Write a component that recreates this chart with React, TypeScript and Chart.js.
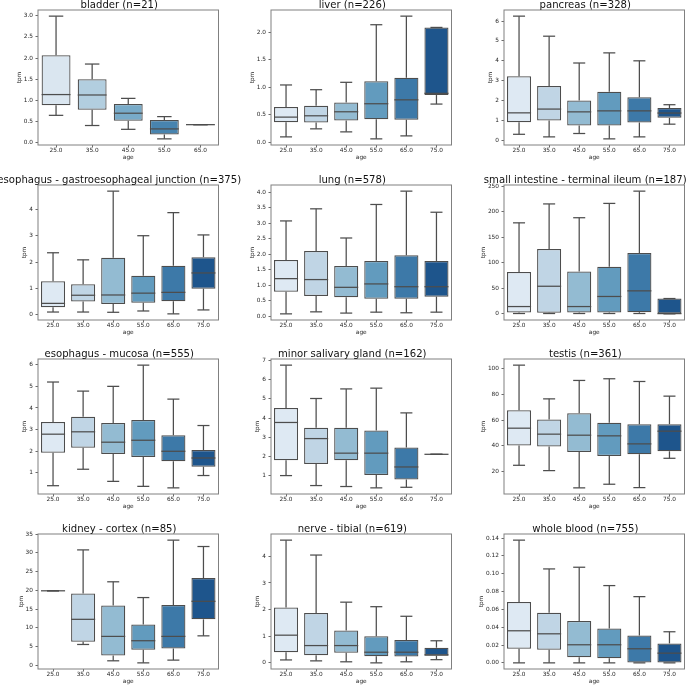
import React, { useEffect, useRef } from "react";
import { Chart, registerables } from "chart.js";

Chart.register(...registerables);

// ---------- data ----------
const AGES_5 = ["25.0", "35.0", "45.0", "55.0", "65.0"];
const AGES_6 = ["25.0", "35.0", "45.0", "55.0", "65.0", "75.0"];

// each row: [whisker low, Q1, median, Q3, whisker high] per age group
const BLADDER = [
  [0.65, 0.89, 1.14, 2.07, 2.99],
  [0.41, 0.78, 1.13, 1.5, 1.86],
  [0.32, 0.52, 0.7, 0.92, 1.05],
  [0.095, 0.2, 0.33, 0.54, 0.62],
  [0.43, 0.43, 0.43, 0.43, 0.43],
];
const LIVER = [
  [0.097, 0.365, 0.456, 0.64, 1.04],
  [0.243, 0.359, 0.48, 0.663, 0.954],
  [0.188, 0.395, 0.553, 0.723, 1.088],
  [0.061, 0.419, 0.699, 1.106, 2.134],
  [0.115, 0.41, 0.77, 1.173, 2.29],
  [0.693, 0.857, 0.888, 2.085, 2.085],
];
const PANCREAS = [
  [0.3, 0.91, 1.38, 3.22, 6.25],
  [0.17, 0.99, 1.57, 2.73, 5.24],
  [0.34, 0.74, 1.43, 2.0, 3.89],
  [0.07, 0.74, 1.48, 2.44, 4.4],
  [0.17, 0.89, 1.48, 2.17, 4.0],
  [0.81, 1.13, 1.37, 1.62, 1.79],
];
const ESOPH_GEJ = [
  [0.1, 0.28, 0.43, 1.27, 2.36],
  [0.1, 0.5, 0.74, 1.16, 2.09],
  [0.09, 0.41, 0.75, 2.17, 4.71],
  [0.14, 0.45, 0.82, 1.48, 3.01],
  [0.03, 0.51, 0.85, 1.86, 3.89],
  [0.18, 0.99, 1.59, 2.19, 3.04],
];
const LUNG = [
  [0.075, 0.79, 1.21, 1.81, 3.07],
  [0.14, 0.65, 1.18, 2.1, 3.46],
  [0.1, 0.61, 0.93, 1.62, 2.52],
  [0.13, 0.56, 1.04, 1.78, 3.6],
  [0.11, 0.56, 0.95, 1.96, 4.03],
  [0.13, 0.63, 0.95, 1.78, 3.35],
];
const SMALL_INTESTINE = [
  [0.7, 2.6, 14.3, 82, 178],
  [0.7, 2.0, 54, 127, 215],
  [0.7, 2.6, 14.3, 83, 188],
  [0.7, 2.6, 34, 92, 216],
  [0.7, 3.3, 45, 119, 240],
  [0, 0, 0.5, 30, 30],
];
const ESOPH_MUCOSA = [
  [0.41, 1.93, 2.79, 3.35, 5.2],
  [1.17, 2.16, 2.9, 3.59, 4.78],
  [0.61, 1.88, 2.42, 3.31, 5.0],
  [0.38, 1.74, 2.51, 3.44, 5.98],
  [0.31, 1.54, 2.0, 2.74, 4.41],
  [0.88, 1.29, 1.69, 2.06, 3.19],
];
const MINOR_SALIVARY = [
  [1.0, 1.8, 3.77, 4.53, 6.76],
  [0.48, 1.61, 2.93, 3.5, 5.02],
  [0.43, 1.8, 2.17, 3.49, 5.52],
  [0.36, 1.03, 2.17, 3.35, 5.56],
  [0.39, 0.79, 1.45, 2.46, 4.27],
  [2.11, 2.11, 2.11, 2.11, 2.11],
];
const TESTIS = [
  [25.1, 40.3, 53.7, 67.6, 102.3],
  [21.0, 39.5, 49.1, 60.4, 76.3],
  [7.7, 35.4, 48.3, 65.3, 90.5],
  [10.5, 32.3, 47.8, 57.8, 91.8],
  [7.9, 33.6, 41.6, 56.8, 89.7],
  [30.5, 35.9, 51.4, 56.8, 78.4],
];
const KIDNEY = [
  [19.9, 19.9, 19.9, 19.9, 19.9],
  [5.6, 6.3, 12.3, 19.2, 30.8],
  [1.25, 2.67, 7.75, 16.0, 22.3],
  [0.7, 4.2, 6.6, 10.9, 18.1],
  [1.43, 4.5, 7.75, 16.1, 33.4],
  [7.9, 12.3, 17.1, 23.3, 31.7],
];
const NERVE = [
  [0.11, 0.4, 1.04, 2.08, 4.61],
  [0.075, 0.29, 0.65, 1.87, 4.05],
  [0.04, 0.38, 0.65, 1.22, 2.28],
  [0.0, 0.25, 0.4, 1.0, 2.11],
  [0.04, 0.24, 0.4, 0.86, 1.75],
  [0.12, 0.27, 0.3, 0.57, 0.83],
];
const WHOLE_BLOOD = [
  [0, 0.0158, 0.036, 0.0683, 0.1377],
  [0, 0.0146, 0.0326, 0.0563, 0.1054],
  [0, 0.0064, 0.0203, 0.0469, 0.1073],
  [0, 0.0053, 0.0203, 0.0386, 0.0867],
  [0, 0, 0.0158, 0.0308, 0.0743],
  [0, 0, 0.0109, 0.0218, 0.0349],
];

const TICKS_BLADDER = ["0.0", "0.5", "1.0", "1.5", "2.0", "2.5", "3.0"];
const TICKS_LIVER = ["0.0", "0.5", "1.0", "1.5", "2.0"];
const TICKS_PANCREAS = ["0", "1", "2", "3", "4", "5", "6"];
const TICKS_GEJ = ["0", "1", "2", "3", "4"];
const TICKS_LUNG = ["0.0", "0.5", "1.0", "1.5", "2.0", "2.5", "3.0", "3.5", "4.0"];
const TICKS_SI = ["0", "50", "100", "150", "200", "250"];
const TICKS_MUCOSA = ["1", "2", "3", "4", "5", "6"];
const TICKS_MSG = ["1", "2", "3", "4", "5", "6", "7"];
const TICKS_TESTIS = ["20", "40", "60", "80", "100"];
const TICKS_KIDNEY = ["0", "5", "10", "15", "20", "25", "30", "35"];
const TICKS_NERVE = ["0", "1", "2", "3", "4"];
const TICKS_BLOOD = ["0.00", "0.02", "0.04", "0.06", "0.08", "0.10", "0.12", "0.14"];

const PANELS = [
  { title: "bladder (n=21)", ages: AGES_5, stats: BLADDER, yTicks: TICKS_BLADDER },
  { title: "liver (n=226)", ages: AGES_6, stats: LIVER, yTicks: TICKS_LIVER },
  { title: "pancreas (n=328)", ages: AGES_6, stats: PANCREAS, yTicks: TICKS_PANCREAS },
  { title: "esophagus - gastroesophageal junction (n=375)", ages: AGES_6, stats: ESOPH_GEJ, yTicks: TICKS_GEJ },
  { title: "lung (n=578)", ages: AGES_6, stats: LUNG, yTicks: TICKS_LUNG },
  { title: "small intestine - terminal ileum (n=187)", ages: AGES_6, stats: SMALL_INTESTINE, yTicks: TICKS_SI },
  { title: "esophagus - mucosa (n=555)", ages: AGES_6, stats: ESOPH_MUCOSA, yTicks: TICKS_MUCOSA },
  { title: "minor salivary gland (n=162)", ages: AGES_6, stats: MINOR_SALIVARY, yTicks: TICKS_MSG },
  { title: "testis (n=361)", ages: AGES_6, stats: TESTIS, yTicks: TICKS_TESTIS },
  { title: "kidney - cortex (n=85)", ages: AGES_6, stats: KIDNEY, yTicks: TICKS_KIDNEY },
  { title: "nerve - tibial (n=619)", ages: AGES_6, stats: NERVE, yTicks: TICKS_NERVE },
  { title: "whole blood (n=755)", ages: AGES_6, stats: WHOLE_BLOOD, yTicks: TICKS_BLOOD },
];

// ---------- styles ----------
const PALETTE_6 = ["#dee9f3", "#c0d5e5", "#93bbd2", "#629bbe", "#3d79a8", "#1e558c"];
const PALETTE_5 = ["#dae6f0", "#b2cedf", "#78abc9", "#4884af", "#235c92"];
const LINE = "#4d4d4d";
const LW = 1.25;
const FRAME = "#808080";
const TEXT = "#262626";
const FONT = '"DejaVu Sans", sans-serif';
const TICK_FS = 5.8;
const TITLE_FS = 10.1;

// ---------- layout ----------
const PLOT_LEFT0 = 38;
const COL_PITCH = 233;
const PLOT_W = 180.5;
const PLOT_TOP0 = 10;
const ROW_PITCH = 174.7;
const PLOT_H = 135;
const TOP_SPACE = 11;
const XAXIS_H = 16;
const YAXIS_W = 38;
const SIDE = 45;
const CANVAS_W = 271;
const CANVAS_H = TOP_SPACE + PLOT_H + XAXIS_H;
const TITLE_SHIFT = -9;

function Panel({ spec, index }: { spec: any; index: number }) {
  const ref = useRef<HTMLCanvasElement | null>(null);
  const r = Math.floor(index / 3);
  const c = index % 3;
  const plotLeft = PLOT_LEFT0 + c * COL_PITCH;
  const plotTop = Math.round(PLOT_TOP0 + r * ROW_PITCH);
  const canvasLeft = plotLeft - SIDE;
  const canvasTop = plotTop - TOP_SPACE;

  useEffect(() => {
    const stats: number[][] = spec.stats;
    const lows = stats.map((s) => s[0]);
    const highs = stats.map((s) => s[4]);
    const lo = Math.min(...lows);
    const hi = Math.max(...highs);
    const margin = (hi - lo) * 0.05;
    const palette = spec.ages.length === 5 ? PALETTE_5 : PALETTE_6;
    const tickVals = spec.yTicks.map(Number);
    const tickFont = { family: FONT, size: TICK_FS, lineHeight: 1 };

    const boxParts = {
      id: "boxParts" + index,
      afterDatasetsDraw(chart: any) {
        const { ctx, chartArea, scales } = chart;
        const xs = scales.x;
        const ys = scales.y;
        const meta = chart.getDatasetMeta(0);
        ctx.save();
        ctx.strokeStyle = LINE;
        ctx.lineWidth = LW;
        ctx.lineCap = "butt";
        const seg = (x1: number, y1: number, x2: number, y2: number) => {
          ctx.beginPath();
          ctx.moveTo(x1, y1);
          ctx.lineTo(x2, y2);
          ctx.stroke();
        };
        stats.forEach((s, i) => {
          const el = meta.data[i];
          const half = el.width / 2;
          const cx = xs.getPixelForValue(i);
          const [wl, q1, med, q3, wh] = s;
          const pLo = ys.getPixelForValue(wl);
          const pQ1 = ys.getPixelForValue(q1);
          const pMed = ys.getPixelForValue(med);
          const pQ3 = ys.getPixelForValue(q3);
          const pHi = ys.getPixelForValue(wh);
          if (pHi < pQ3) seg(cx, pQ3, cx, pHi);
          if (pLo > pQ1) seg(cx, pQ1, cx, pLo);
          seg(cx - half / 2, pHi, cx + half / 2, pHi);
          seg(cx - half / 2, pLo, cx + half / 2, pLo);
          seg(cx - half, pMed, cx + half, pMed);
        });
        // frame
        ctx.strokeStyle = FRAME;
        ctx.lineWidth = 1;
        ctx.strokeRect(chartArea.left, chartArea.top, chartArea.right - chartArea.left, chartArea.bottom - chartArea.top);
        // title
        ctx.fillStyle = "#111";
        ctx.font = `${TITLE_FS}px ${FONT}`;
        ctx.textAlign = "center";
        ctx.textBaseline = "middle";
        ctx.fillText(spec.title, (chartArea.left + chartArea.right) / 2 + TITLE_SHIFT, chartArea.top - 5);
        // y-axis label
        ctx.font = `${TICK_FS}px ${FONT}`;
        let maxW = 0;
        spec.yTicks.forEach((t: string) => {
          maxW = Math.max(maxW, ctx.measureText(t).width);
        });
        const tx = chartArea.left - 5 - maxW - 4.5;
        const ty = (chartArea.top + chartArea.bottom) / 2;
        ctx.fillStyle = TEXT;
        ctx.translate(tx, ty);
        ctx.rotate(-Math.PI / 2);
        ctx.fillText("tpm", 0, 0);
        ctx.restore();
      },
    };

    const chart = new Chart(ref.current as HTMLCanvasElement, {
      type: "bar",
      data: {
        labels: spec.ages,
        datasets: [
          {
            data: stats.map((s) => [s[1], s[3]]),
            backgroundColor: palette,
            borderColor: LINE,
            borderWidth: LW,
            borderSkipped: false,
            categoryPercentage: 0.8,
            barPercentage: 1,
          } as any,
        ],
      },
      options: {
        animation: false,
        responsive: false,
        events: [],
        layout: {
          padding: {
            left: SIDE - YAXIS_W,
            right: CANVAS_W - SIDE - PLOT_W,
            top: TOP_SPACE,
            bottom: 0,
          },
        },
        plugins: {
          legend: { display: false },
          title: { display: false },
          tooltip: { enabled: false },
        },
        scales: {
          x: {
            type: "category",
            offset: true,
            grid: {
              display: true,
              drawOnChartArea: false,
              drawTicks: true,
              tickLength: 2.5,
              offset: false,
              color: "#444",
              lineWidth: 0.8,
            },
            border: { display: false },
            ticks: {
              padding: 0,
              color: TEXT,
              font: tickFont,
              maxRotation: 0,
              minRotation: 0,
              autoSkip: false,
            },
            title: {
              display: true,
              text: "age",
              color: TEXT,
              font: tickFont,
              padding: { top: 0, bottom: 0.7 },
            },
            afterFit: (s: any) => {
              s.height = XAXIS_H;
            },
          },
          y: {
            type: "linear",
            min: lo - margin,
            max: hi + margin,
            grid: {
              display: true,
              drawOnChartArea: false,
              drawTicks: true,
              tickLength: 2.5,
              color: "#444",
              lineWidth: 0.8,
            },
            border: { display: false },
            ticks: {
              padding: 2.5,
              color: TEXT,
              font: tickFont,
              callback: (_v: any, i: number) => spec.yTicks[i],
            },
            afterBuildTicks: (s: any) => {
              s.ticks = tickVals.map((v: number) => ({ value: v }));
            },
            afterFit: (s: any) => {
              s.width = YAXIS_W;
            },
          },
        },
      } as any,
      plugins: [boxParts as any],
    });
    return () => chart.destroy();
  }, [spec, index]);

  return (
    <canvas
      ref={ref}
      width={CANVAS_W}
      height={CANVAS_H}
      style={{
        position: "absolute",
        left: canvasLeft,
        top: canvasTop,
        width: CANVAS_W,
        height: CANVAS_H,
      }}
    />
  );
}

export default function App() {
  return (
    <div
      style={{
        position: "fixed",
        left: 0,
        top: 0,
        width: 686,
        height: 685,
        overflow: "hidden",
        background: "#fff",
      }}
    >
      {PANELS.map((p, i) => (
        <Panel key={i} spec={p} index={i} />
      ))}
    </div>
  );
}
